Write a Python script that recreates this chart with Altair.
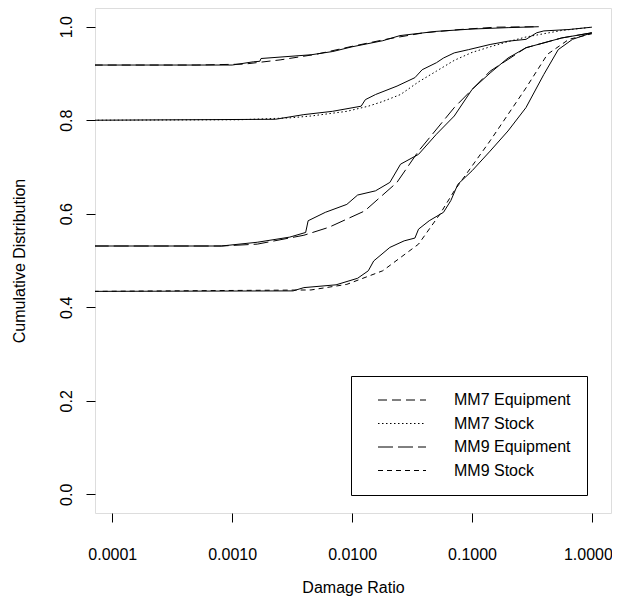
import altair as alt
import pandas as pd

FONT = "Liberation Sans"

series_names = ["MM7 Equipment", "MM7 Stock", "MM9 Equipment", "MM9 Stock"]
dash_styles = [[9, 5], [1.5, 2.5], [15, 5], [5, 4]]

x_ticks = [0.0001, 0.001, 0.01, 0.1, 1.0]
y_ticks = [0.0, 0.2, 0.4, 0.6, 0.8, 1.0]

# ---- fitted curves (dashed / dotted) ----
fit_mm7_eq_x = [0.00007, 0.0005, 0.00126, 0.00251, 0.00501, 0.01, 0.02, 0.0398, 0.0794, 0.158, 0.36]
fit_mm7_eq_y = [0.918, 0.918, 0.920, 0.929, 0.941, 0.958, 0.974, 0.987, 0.994, 0.999, 1.0]

fit_mm7_st_x = [0.00007, 0.00115, 0.00302, 0.00454, 0.00904, 0.01365, 0.0180, 0.02535, 0.0358,
                0.0505, 0.0711, 0.1, 0.1416, 0.1995, 0.282, 0.561, 1.0]
fit_mm7_st_y = [0.800, 0.801, 0.805, 0.809, 0.819, 0.830, 0.840, 0.855, 0.882,
                0.905, 0.928, 0.945, 0.957, 0.968, 0.978, 0.992, 0.999]

fit_mm9_eq_x = [0.00007, 0.000813, 0.001618, 0.003963, 0.0064, 0.01274, 0.02366, 0.03581,
                0.07112, 0.1416, 0.2818, 0.561, 1.0]
fit_mm9_eq_y = [0.531, 0.531, 0.535, 0.554, 0.571, 0.606, 0.667, 0.734,
                0.827, 0.905, 0.955, 0.976, 0.987]

fit_mm9_st_x = [0.00007, 0.00454, 0.00904, 0.0180, 0.03581, 0.05395, 0.07112, 0.1416,
                0.2818, 0.4256, 0.6427, 1.0]
fit_mm9_st_y = [0.434, 0.437, 0.449, 0.478, 0.535, 0.599, 0.649, 0.756,
                0.869, 0.941, 0.973, 0.985]

# ---- empirical curves (solid) ----
emp_mm7_eq_x = [0.00007, 0.001, 0.00151, 0.00170, 0.00174, 0.00457, 0.00692, 0.01, 0.018,
                0.0251, 0.0501, 0.1, 0.2, 0.36]
emp_mm7_eq_y = [0.918, 0.918, 0.925, 0.926, 0.932, 0.940, 0.947, 0.957, 0.970,
                0.981, 0.990, 0.995, 0.998, 1.0]

emp_mm7_st_x = [0.00007, 0.00229, 0.00396, 0.00685, 0.0119, 0.0129, 0.0157, 0.0237, 0.0334,
                0.0384, 0.0505, 0.0578, 0.0711, 0.0938, 0.1416, 0.1995, 0.282, 0.346,
                0.397, 0.643, 1.0]
emp_mm7_st_y = [0.800, 0.802, 0.812, 0.819, 0.830, 0.844, 0.855, 0.873, 0.891,
                0.908, 0.923, 0.933, 0.944, 0.951, 0.962, 0.969, 0.973, 0.987,
                0.991, 0.994, 0.999]

emp_mm9_eq_x = [0.00007, 0.000813, 0.001618, 0.00302, 0.0041, 0.0043, 0.00598, 0.00904,
                0.01112, 0.01567, 0.02065, 0.02535, 0.03581, 0.05047, 0.07112, 0.1002,
                0.1416, 0.1995, 0.2818, 0.561, 1.0]
emp_mm9_eq_y = [0.531, 0.531, 0.539, 0.550, 0.560, 0.585, 0.603, 0.620,
                0.640, 0.649, 0.667, 0.706, 0.727, 0.770, 0.809, 0.866,
                0.901, 0.933, 0.955, 0.976, 0.987]

emp_mm9_st_x = [0.00007, 0.00322, 0.003963, 0.00735, 0.01112, 0.01365, 0.01514, 0.02065,
                0.02716, 0.03342, 0.03581, 0.04395, 0.05781, 0.06653, 0.07621, 0.1002,
                0.1416, 0.1995, 0.2818, 0.3972, 0.5236, 0.6887, 1.0]
emp_mm9_st_y = [0.434, 0.435, 0.442, 0.448, 0.462, 0.478, 0.499, 0.528,
                0.542, 0.548, 0.567, 0.585, 0.603, 0.628, 0.663, 0.692,
                0.734, 0.777, 0.827, 0.898, 0.951, 0.973, 0.987]

fits = [(fit_mm7_eq_x, fit_mm7_eq_y), (fit_mm7_st_x, fit_mm7_st_y),
        (fit_mm9_eq_x, fit_mm9_eq_y), (fit_mm9_st_x, fit_mm9_st_y)]
emps = [(emp_mm7_eq_x, emp_mm7_eq_y), (emp_mm7_st_x, emp_mm7_st_y),
        (emp_mm9_eq_x, emp_mm9_eq_y), (emp_mm9_st_x, emp_mm9_st_y)]

fit_rows = []
for name, (xs, ys) in zip(series_names, fits):
    for i, (xv, yv) in enumerate(zip(xs, ys)):
        fit_rows.append({"x": xv, "y": yv, "series": name, "i": i})
emp_rows = []
for name, (xs, ys) in zip(series_names, emps):
    for i, (xv, yv) in enumerate(zip(xs, ys)):
        emp_rows.append({"x": xv, "y": yv, "series": name, "i": i})

fit_df = pd.DataFrame(fit_rows)
emp_df = pd.DataFrame(emp_rows)

x_scale = alt.Scale(type="log", domain=[0.0000718, 1.442], nice=False)
y_scale = alt.Scale(domain=[-0.04, 1.04], nice=False, zero=False)

FS = 16

x_axis = alt.Axis(values=x_ticks, labelExpr="format(datum.value, '.4f')", title="Damage Ratio",
                  grid=False, domain=False, tickSize=9, tickColor="black", labelColor="black",
                  labelFontSize=FS, labelFont=FONT, labelPadding=24, titleFont=FONT,
                  titleFontSize=FS, titleFontWeight="normal", titleColor="black", titlePadding=17,
                  labelFlush=False,
                  labelOffset={"condition": {"test": "datum.value >= 1", "value": -4}, "value": 0})
y_axis = alt.Axis(values=y_ticks, format=".1f", title="Cumulative Distribution",
                  grid=False, domain=False, tickSize=9, tickColor="black", labelColor="black",
                  labelFontSize=FS, labelFont=FONT, labelAngle=270, labelAlign="center",
                  labelBaseline="bottom", labelPadding=12, titleFont=FONT, titleFontSize=FS,
                  titleFontWeight="normal", titleColor="black", titlePadding=31, labelFlush=False)

fit_layer = alt.Chart(fit_df).mark_line(color="black", strokeWidth=1, clip=True).encode(
    x=alt.X("x:Q", scale=x_scale, axis=x_axis),
    y=alt.Y("y:Q", scale=y_scale, axis=y_axis),
    strokeDash=alt.StrokeDash(
        "series:N",
        scale=alt.Scale(domain=series_names, range=dash_styles),
        legend=alt.Legend(
            title=None, orient="none", legendX=256, legendY=368,
            symbolType="M1,0H17", symbolSize=36, symbolStrokeWidth=1,
            symbolStrokeColor="black", labelFont=FONT, labelFontSize=FS,
            labelColor="black", labelOffset=71, rowPadding=7.5,
            strokeColor="black", fillColor="white", padding=16,
        ),
    ),
    order="i:Q",
)

emp_layer = alt.Chart(emp_df).mark_line(color="black", strokeWidth=1, clip=True).encode(
    x=alt.X("x:Q", scale=x_scale),
    y=alt.Y("y:Q", scale=y_scale),
    detail="series:N",
    order="i:Q",
)

chart = alt.layer(emp_layer, fit_layer).properties(
    width=516, height=505,
    autosize=alt.AutoSizeParams(type="none"),
    padding={"left": 87, "top": 0, "right": 1, "bottom": 88},
).configure_view(stroke="black", strokeWidth=1).configure(background="white")

chart.save("out.html", embed_options={"renderer": "svg", "actions": False})
